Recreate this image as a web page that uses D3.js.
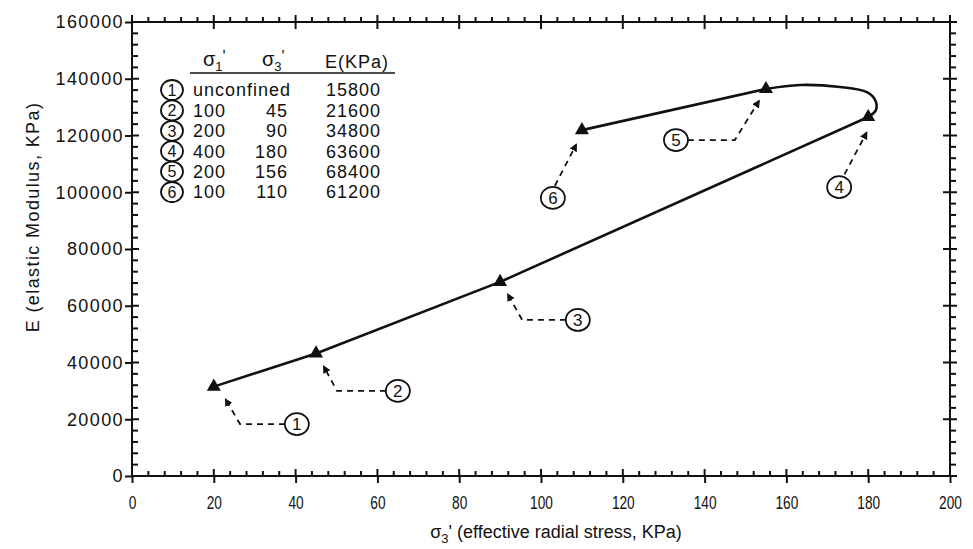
<!DOCTYPE html>
<html>
<head>
<meta charset="utf-8">
<script src="https://cdn.jsdelivr.net/npm/d3@7"></script>
<style>
  body { margin: 0; background: #fff; }
  text { font-family: Arial, "Liberation Sans", sans-serif; fill: #111; }
</style>
</head>
<body>
<div id="chart"></div>
<script>
// plotted points (sigma3' in KPa, E in KPa), in test order 1..6
let stressX = [20, 45, 90, 180, 155, 110];
let modulusE = [31500, 43200, 68400, 126500, 136400, 121900];

// the loop drawn between point 4 and point 5
let loopX = [180, 181.9, 181.7, 179.7, 173.1, 163.3, 155];
let loopE = [126500, 129000, 132500, 135300, 137100, 137800, 136400];

// tick values
let xMajor = d3.range(0, 201, 20);
let xMinor = d3.range(0, 201, 4).filter(d => d % 20 !== 0);
let yMajor = d3.range(0, 160001, 20000);
let yMinor = d3.range(0, 160001, 4000).filter(d => d % 20000 !== 0);

// table in the upper left
let testIds = ["1", "2", "3", "4", "5", "6"];
let sigma1 = ["unconfined", "100", "200", "400", "200", "100"];
let sigma3 = ["", "45", "90", "180", "156", "110"];
let tableE = ["15800", "21600", "34800", "63600", "68400", "61200"];

// callouts: circled number and dashed leader (data units)
let calloutX = [40.3, 65.0, 109.0, 172.9, 133.0, 102.9];
let calloutE = [18300, 30000, 55000, 101800, 118400, 98000];
let leaders = [
    [[37.4, 18300], [26.4, 18300], [22.9, 27000]],
    [[62.1, 30000], [50.1, 30000], [46.9, 38600]],
    [[106.1, 55000], [95.4, 55000], [91.9, 64000]],
    [[174.2, 106300], [179.6, 121000]],
    [[135.9, 118400], [147.4, 118400], [153.3, 132200]],
    [[103.4, 102300], [108.6, 116800]]
];

// svg dimensions
let svgWidth = 973;
let svgHeight = 549;
let margins = { top: 22, right: 23, bottom: 73, left: 132 };
let width = svgWidth - margins.left - margins.right;
let height = svgHeight - margins.top - margins.bottom;

let svg = d3.select("#chart")
    .append("svg")
    .attr("width", svgWidth)
    .attr("height", svgHeight);

svg.append("defs").append("marker")
    .attr("id", "arrow")
    .attr("viewBox", "0 0 10 10")
    .attr("refX", 8)
    .attr("refY", 5)
    .attr("markerWidth", 4.5)
    .attr("markerHeight", 4.5)
    .attr("markerUnits", "strokeWidth")
    .attr("orient", "auto")
    .append("path")
    .attr("d", "M0,0 L10,5 L0,10 Z")
    .attr("fill", "#111");

let chartGroup = svg.append("g")
    .attr("transform", `translate(${margins.left}, ${margins.top})`);

// scales
let xScale = d3.scaleLinear().domain([0, 200]).range([0, width]);
let yScale = d3.scaleLinear().domain([0, 160000]).range([height, 0]);

// labelled axes (left and bottom)
let leftAxis = chartGroup.append("g")
    .call(d3.axisLeft(yScale).tickValues(yMajor).tickSize(7).tickSizeOuter(0)
        .tickPadding(1).tickFormat(d3.format("d")));
leftAxis.select(".domain").remove();
leftAxis.selectAll("line").attr("stroke", "#111").attr("stroke-width", 2);
leftAxis.selectAll("text")
    .style("font-size", "18px")
    .style("letter-spacing", "1.4px")
    .attr("fill", "#111");

let bottomAxis = chartGroup.append("g")
    .attr("transform", `translate(0, ${height})`)
    .call(d3.axisBottom(xScale).tickValues(xMajor).tickSize(7).tickSizeOuter(0).tickPadding(13));
bottomAxis.select(".domain").remove();
bottomAxis.selectAll("line").attr("stroke", "#111").attr("stroke-width", 2);
bottomAxis.selectAll("text")
    .style("font-size", "18px")
    .attr("transform", "scale(0.76,1)")
    .attr("fill", "#111");

// extra tick marks on the four sides of the frame
// vertical sides: from x0 to x0+len at each y value
function yTicks(vals, x0, len) {
    chartGroup.append("g").selectAll("line")
        .data(vals)
        .enter()
        .append("line")
        .attr("x1", x0)
        .attr("x2", x0 + len)
        .attr("y1", d => yScale(d))
        .attr("y2", d => yScale(d))
        .attr("stroke", "#111")
        .attr("stroke-width", 2);
}
// horizontal sides: from y0 to y0+len at each x value
function xTicks(vals, y0, len) {
    chartGroup.append("g").selectAll("line")
        .data(vals)
        .enter()
        .append("line")
        .attr("y1", y0)
        .attr("y2", y0 + len)
        .attr("x1", d => xScale(d))
        .attr("x2", d => xScale(d))
        .attr("stroke", "#111")
        .attr("stroke-width", 2);
}

yTicks(yMajor, 0, 7);
yTicks(yMinor, 0, 6);
yTicks(yMajor, width - 7, 14);
yTicks(yMinor, width, 6);
xTicks(xMajor, height, -7);
xTicks(xMinor, height, -5);
xTicks(xMajor, -7, 14);
xTicks(xMinor, 0, -5);

// frame
chartGroup.append("rect")
    .attr("width", width)
    .attr("height", height)
    .attr("fill", "none")
    .attr("stroke", "#111")
    .attr("stroke-width", 2);

// data line
let pts = stressX.map((d, i) => [d, modulusE[i]]);
let line = d3.line()
    .x(d => xScale(d[0]))
    .y(d => yScale(d[1]));
let curvedLine = d3.line()
    .x(d => xScale(d[0]))
    .y(d => yScale(d[1]))
    .curve(d3.curveCatmullRom.alpha(0.5));

chartGroup.append("path")
    .attr("d", line(pts.slice(0, 4)))
    .attr("fill", "none")
    .attr("stroke", "#111")
    .attr("stroke-width", 2.6);

chartGroup.append("path")
    .attr("d", curvedLine(loopX.map((d, i) => [d, loopE[i]])))
    .attr("fill", "none")
    .attr("stroke", "#111")
    .attr("stroke-width", 2.6);

chartGroup.append("path")
    .attr("d", line(pts.slice(4)))
    .attr("fill", "none")
    .attr("stroke", "#111")
    .attr("stroke-width", 2.6);

// triangle markers
chartGroup.selectAll(".marker")
    .data(pts)
    .enter()
    .append("path")
    .attr("class", "marker")
    .attr("transform", d => `translate(${xScale(d[0])}, ${yScale(d[1])})`)
    .attr("d", d3.symbol().type(d3.symbolTriangle).size(85))
    .attr("fill", "#111");

// callout leaders
chartGroup.selectAll(".leader")
    .data(leaders)
    .enter()
    .append("path")
    .attr("class", "leader")
    .attr("d", d => line(d))
    .attr("fill", "none")
    .attr("stroke", "#111")
    .attr("stroke-width", 1.8)
    .attr("stroke-dasharray", "6,5")
    .attr("marker-end", "url(#arrow)");

// circled numbers
let callouts = chartGroup.selectAll(".callout")
    .data(testIds)
    .enter()
    .append("g")
    .attr("class", "callout")
    .attr("transform", (d, i) => `translate(${xScale(calloutX[i])}, ${yScale(calloutE[i])})`);

callouts.append("ellipse")
    .attr("rx", 12)
    .attr("ry", 11)
    .attr("fill", "#fff")
    .attr("stroke", "#111")
    .attr("stroke-width", 1.8);

callouts.append("text")
    .attr("text-anchor", "middle")
    .attr("dy", "0.36em")
    .style("font-size", "17px")
    .text(d => d);

// table
let table = svg.append("g");
let rowY = d3.scalePoint().domain(testIds).range([90, 192]);

function sigmaHeader(x, sub) {
    let t = table.append("text")
        .attr("x", x)
        .attr("y", 66)
        .style("font-size", "20px");
    t.append("tspan").text("\u03c3");
    t.append("tspan").attr("dy", 5).style("font-size", "13px").text(sub);
    t.append("tspan").attr("dy", -9).style("font-size", "16px").text("'");
}
sigmaHeader(203, "1");
sigmaHeader(262, "3");

table.append("text")
    .attr("x", 325)
    .attr("y", 68)
    .style("font-size", "18px")
    .style("letter-spacing", "1px")
    .text("E(KPa)");

table.append("line")
    .attr("x1", 190).attr("x2", 395)
    .attr("y1", 73).attr("y2", 73)
    .attr("stroke", "#111")
    .attr("stroke-width", 1.6);

let rows = table.selectAll(".row")
    .data(testIds)
    .enter()
    .append("g")
    .attr("class", "row")
    .attr("transform", d => `translate(0, ${rowY(d)})`);

rows.append("ellipse")
    .attr("cx", 172)
    .attr("rx", 11)
    .attr("ry", 10)
    .attr("fill", "#fff")
    .attr("stroke", "#111")
    .attr("stroke-width", 1.8);

rows.append("text")
    .attr("x", 172)
    .attr("dy", "0.36em")
    .attr("text-anchor", "middle")
    .style("font-size", "16px")
    .text(d => d);

rows.append("text")
    .attr("x", 193)
    .attr("dy", "0.36em")
    .style("font-size", "18px")
    .style("letter-spacing", "1px")
    .text((d, i) => sigma1[i]);

rows.append("text")
    .attr("x", 288)
    .attr("dy", "0.36em")
    .attr("text-anchor", "end")
    .style("font-size", "18px")
    .style("letter-spacing", "1px")
    .text((d, i) => sigma3[i]);

rows.append("text")
    .attr("x", 381)
    .attr("dy", "0.36em")
    .attr("text-anchor", "end")
    .style("font-size", "18px")
    .style("letter-spacing", "1px")
    .text((d, i) => tableE[i]);

// axis titles
let xTitle = svg.append("text")
    .attr("x", 556)
    .attr("y", 538)
    .attr("text-anchor", "middle")
    .style("font-size", "18px");
xTitle.append("tspan").text("\u03c3");
xTitle.append("tspan").attr("dy", 5).style("font-size", "13px").text("3");
xTitle.append("tspan").attr("dy", -5).text("' (effective radial stress, KPa)");

svg.append("text")
    .attr("transform", "translate(39, 217) rotate(-90)")
    .attr("text-anchor", "middle")
    .style("font-size", "18px")
    .style("letter-spacing", "1.4px")
    .text("E (elastic Modulus, KPa)");
</script>
</body>
</html>
